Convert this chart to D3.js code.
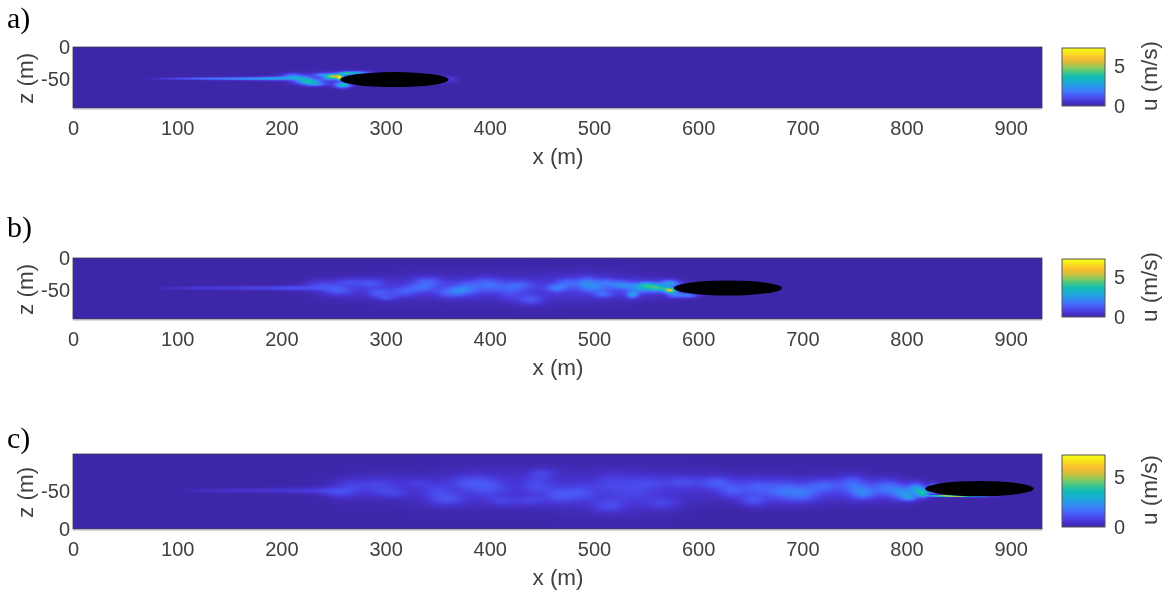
<!DOCTYPE html>
<html><head><meta charset="utf-8">
<script src="https://cdn.jsdelivr.net/npm/d3@7"></script>
<style>html,body{margin:0;padding:0;background:#fff;overflow:hidden}#c{position:relative;width:1165px;height:590px}canvas,svg{position:absolute;left:0;top:0}</style>
</head><body><div id="c"></div>
<script>
// x (m), z (m), spread x (m), spread z (m), u (m/s)
const wakeA = [
[88,-49,9,.8,.3],[105,-49,12,1,.6],[125,-49,14,1.1,.85],[145,-49,14,1.2,1.05],[165,-49,14,1.3,1.2],[185,-49,12,1.5,1.4],[200,-48.5,10,1.8,1.5],
[211,-45,5,2.5,1.7],[221,-50,5,3,1.6],[227,-54,6,2.5,2.6],[233,-58,5,1.6,1.6],[239,-43,5,1.6,1.5],[247,-46.5,4,2.5,2.6],[253,-45,4,2.2,3.2],
[259,-59,4,2.5,3.4],[272,-40,7,1.6,2.4],[256,-48,1.5,2.2,4],[262,-41,4,1.5,2.5],[360,-50,5,3,.7],[225,-50,14,5,.4],[250,-49,12,6,.5]];
const wakeB = [
[100,-46.5,12,1,.2],[120,-46.5,16,1.2,.35],[150,-46.5,18,1.4,.5],[185,-46.5,18,1.6,.65],[215,-46.5,12,2,.75],
[237,-42,8,4,.7],[254,-50,8,4,1],[263,-37,7,3,.6],[285,-39,8,3.5,.75],[293,-54,6,3.5,.85],[301,-62,5,2.2,.7],[317,-53,8,4,.8],[340,-37,8,4,1],[333,-46.5,8,3,.8],[362,-54,8,4,.9],[378,-46.5,8,5,1],[371,-50,6,3,.5],[397,-37,8,4,.75],[403,-45,7,4,.7],[439,-65,7,4,.9],[429,-42,8,4,.8],[420,-52,6,6,.6],[464,-46.5,5,3,1.2],[474,-39,6,4,.9],[493,-39,6,5,1.3],[503,-46.5,7,4,.9],[512,-37,6,3,.8],[509,-57,5,2.5,.9],[537,-57,3,2.5,2.1],[528,-42,7,3,1.4],[551,-42,5,2.5,2.5],[545,-48,6,3,1.4],[560,-46.5,4,2.5,2.4],[573,-50,3,1.8,4.5],[567,-47,3,1.5,1.2],[573,-39,5,2.5,2],[589,-58,6,2,1.8],[576,-56,4,3,1.2],
[260,-46,20,9,.3],[300,-48,20,10,.32],[340,-45,20,10,.35],[380,-47,20,10,.42],[420,-48,20,11,.36],[460,-47,20,11,.42],[500,-45,20,11,.5],[540,-47,16,8,.7],[570,-46,10,5,.8]];
const wakeC = [
[130,-50.5,14,1.2,.16],[155,-50.5,18,1.4,.28],[190,-50.5,20,1.7,.36],[225,-50.5,14,2,.4],[245,-50,8,2.5,.4],
[266,-55,9,5,.6],[256,-46,7,3,.4],[295,-57,10,5,.55],[307,-47,9,3,.45],[330,-60,8,3,.4],[359,-39,10,4,.8],[349,-50,8,4,.45],[381,-61,12,5,.7],[400,-53,10,6,.55],[413,-36,8,3,.5],[451,-73,7,3,.5],[445,-58,8,6,.55],[467,-44,8,5,.7],[439,-37,8,3,.5],
[487,-47,9,5,.65],[518,-61,11,6,.5],[551,-60,11,5,.55],[515,-30,9,4,.7],[566,-34,10,4,.55],[535,-45,12,5,.35],[585,-62,9,4,.6],[618,-61,9,4,.85],[633,-50,7,4,.75],[653,-37,7,3.5,.8],[656,-55,8,5,.75],[681,-50,9,6,1],[701,-46,8,5,1],[720,-57,8,4,.85],[748,-60,7,5,1],[758,-47,6,4,1.2],[781,-55,8,5,1],[797,-47,6,4,1.5],[803,-41,4,2,1.5],[810,-53,4,3.5,2],[816,-47,3,2.5,3],[826,-53,2.5,2.5,3.5],
[270,-53,20,9,.22],[310,-55,20,10,.22],[350,-50,20,12,.25],[390,-55,20,12,.3],[430,-55,20,13,.3],[470,-52,20,13,.32],[510,-47,20,15,.28],[550,-48,20,15,.3],[590,-55,20,10,.28],[630,-55,20,9,.33],[670,-50,20,9,.4],[710,-52,20,8,.45],[750,-52,20,8,.5],[790,-50,20,6,.6]];
const edgeCx = [835,850,870];
const edgeCz = [-43.5,-43,-42.5];
const edgeCu = [5.5,4.5,2];
const panelNames = ["a)","b)","c)"];
const panelNameY = [28,237,448];
const ellipseX = [308.5,628.6,870];
const ellipseZ = [-50.5,-46.5,-53];
const ellipseSemiX = [52,52,52];
const ellipseSemiZ = [11.6,11.6,10];
const xTicks = [0,100,200,300,400,500,600,700,800,900];
const zTicks = [[0,-50],[0,-50],[-50,0]];
const uTicks = [0,5];
const uStops = ["#3e26a8","#4836d8","#4a55f4","#3e78fb","#2b96ec","#19aed2","#12bcb4","#45c785","#8fca5c","#d8be38","#fdc030","#f7e51c","#f9fb15"];
const zDomains = [[0,-94.5],[0,-94.5],[-98.5,0]];
const xDomain = [0,930];
const uMax = 7.25;
const blobGrowX = [1.25,1.25,1.25];
const blobGrowZ = [1.2,1.4,1.5];
const wakes = [wakeA,wakeB,wakeC];
const tops = [47,258,454];
const bottoms = [108,319,529];

const W=1165,H=590,left=73,right=1042;
const root=d3.select("#c");
const canvas=root.append("canvas").attr("width",W).attr("height",H).node();
const ctx=canvas.getContext("2d");
const svg=root.append("svg").attr("width",W).attr("height",H).style("font-family","'Liberation Sans',Arial,sans-serif");
const x=d3.scaleLinear().domain(xDomain).range([left,right]);
const color=d3.scaleLinear().domain(uStops.map((_,i)=>i/(uStops.length-1)*uMax)).range(uStops).clamp(true);
const ink="#404040";
const fmt=d=>String(d);

wakes.forEach((blobs,p)=>{
  const y=d3.scaleLinear().domain(zDomains[p]).range([tops[p],bottoms[p]]);
  const rows=blobs.map(b=>[b[0],b[1],b[2]*blobGrowX[p],b[3]*blobGrowZ[p],b[4]]);
  if(p===2) edgeCx.forEach((v,i)=>rows.push([v,edgeCz[i],9,.7,edgeCu[i]]));
  const w=right-left,h=bottoms[p]-tops[p];
  const img=ctx.createImageData(w,h);
  for(let j=0;j<h;j++)for(let i=0;i<w;i++){
    const mx=x.invert(left+i+.5),mz=y.invert(tops[p]+j+.5);
    let u=0;
    for(const b of rows){const dx=(mx-b[0])/b[2],dz=(mz-b[1])/b[3];const e=dx*dx+dz*dz;if(e<16)u+=b[4]*Math.exp(-e/2);}
    const c=d3.rgb(color(u));const k=(j*w+i)*4;
    img.data[k]=c.r;img.data[k+1]=c.g;img.data[k+2]=c.b;img.data[k+3]=255;
  }
  ctx.putImageData(img,left,tops[p]);
  const g=svg.append("g");
  g.append("ellipse").attr("cx",x(ellipseX[p])).attr("cy",y(ellipseZ[p]))
   .attr("rx",x(ellipseSemiX[p])-x(0)).attr("ry",Math.abs(y(ellipseSemiZ[p])-y(0))).attr("fill","#000");
  g.append("rect").attr("x",left).attr("y",tops[p]).attr("width",w).attr("height",h).attr("fill","none").attr("stroke","#3a3a50").attr("stroke-width",.8);
  g.append("line").attr("x1",left).attr("x2",right).attr("y1",bottoms[p]+1).attr("y2",bottoms[p]+1).attr("stroke","#b5b5b5").attr("stroke-width",1);
  const ax=g.append("g").attr("transform",`translate(0,${bottoms[p]})`).call(d3.axisBottom(x).tickValues(xTicks).tickFormat(fmt).tickSize(0).tickPadding(13));
  ax.select(".domain").remove();
  ax.selectAll("text").attr("fill",ink).style("font-size","20px");
  const az=g.append("g").attr("transform",`translate(${left},0)`).call(d3.axisLeft(y).tickValues(zTicks[p]).tickFormat(fmt).tickSize(0).tickPadding(3));
  az.select(".domain").remove();
  az.selectAll("text").attr("fill",ink).style("font-size","20px");
  g.append("text").attr("x",558).attr("y",bottoms[p]+56).attr("text-anchor","middle").attr("fill",ink).style("font-size","22.5px").text("x (m)");
  g.append("text").attr("transform",`translate(33,${(tops[p]+bottoms[p])/2+1}) rotate(-90)`).attr("text-anchor","middle").attr("fill",ink).style("font-size","22.5px").text("z (m)");
  g.append("text").attr("x",7).attr("y",panelNameY[p]).attr("fill","#000").style("font-family","'Liberation Serif',serif").style("font-size","30px").text(panelNames[p]);
  // colour bar
  const cb0=tops[p]+1,cb1=bottoms[p]-2;
  const cy=d3.scaleLinear().domain([0,uMax]).range([cb1,cb0]);
  const cx0=1062,cw=43;
  const grad=ctx.createLinearGradient(0,cb1,0,cb0);
  uStops.forEach((s,i)=>grad.addColorStop(i/(uStops.length-1),s));
  ctx.fillStyle=grad;ctx.fillRect(cx0,cb0,cw,cb1-cb0);
  g.append("rect").attr("x",cx0).attr("y",cb0).attr("width",cw).attr("height",cb1-cb0).attr("fill","none").attr("stroke","#555").attr("stroke-width",1);
  const ac=g.append("g").attr("transform",`translate(${cx0+cw},0)`).call(d3.axisRight(cy).tickValues(uTicks).tickSize(0).tickPadding(9));
  ac.select(".domain").remove();
  ac.selectAll("text").attr("fill",ink).style("font-size","20px");
  g.append("text").attr("transform",`translate(1157,${(cb0+cb1)/2-1}) rotate(-90)`).attr("text-anchor","middle").attr("fill",ink).style("font-size","22.5px").text("u (m/s)");
});
</script></body></html>
